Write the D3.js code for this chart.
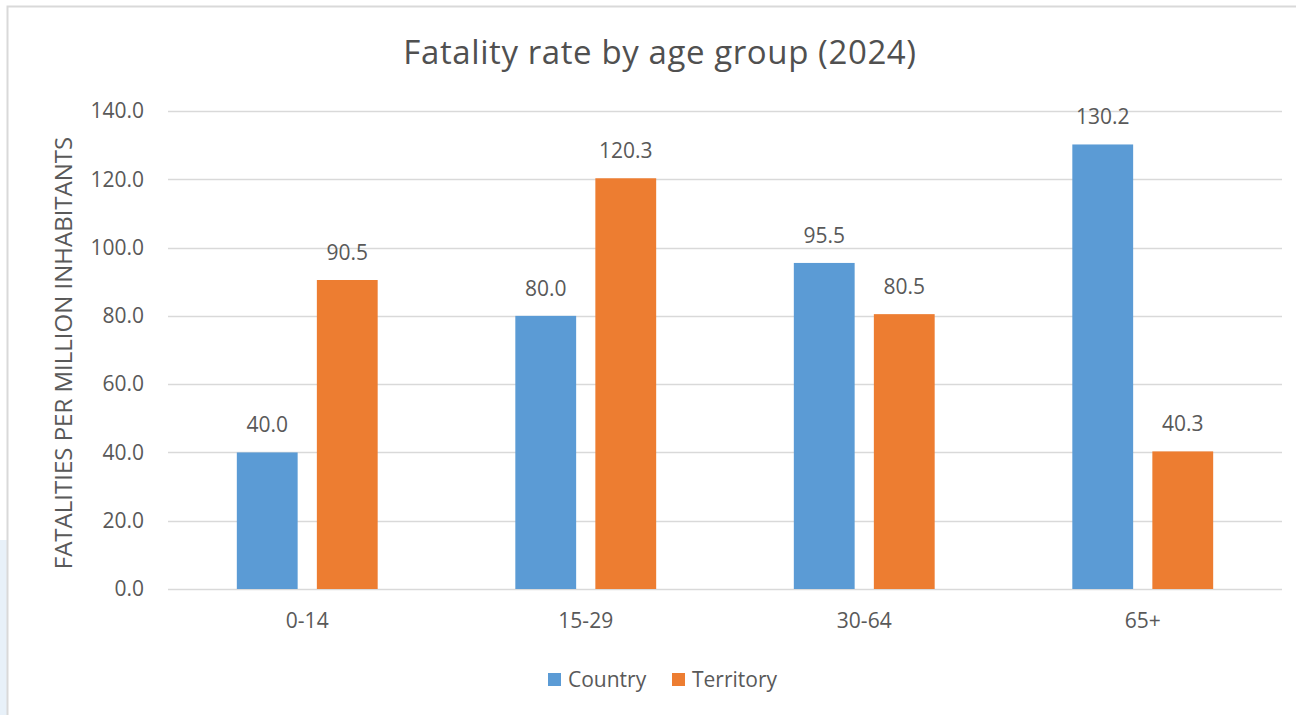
<!DOCTYPE html>
<html>
<head>
<meta charset="utf-8">
<script src="https://cdn.jsdelivr.net/npm/d3@7"></script>
<style>
  body { margin: 0; background: #fff; }
  svg text { font-family: "Open Sans", "Noto Sans", sans-serif; fill: #595959; }
</style>
</head>
<body>
<div id="chart"></div>
<script>
/* --- データ --- */
const categories = ["0-14", "15-29", "30-64", "65+"];
const seriesNames = ["Country", "Territory"];
const countryValues = [40.0, 80.0, 95.5, 130.2];
const territoryValues = [90.5, 120.3, 80.5, 40.3];
const yTicks = [0, 20, 40, 60, 80, 100, 120, 140];
const colors = ["#5B9BD5", "#ED7D31"];

const width = 1296, height = 715;
const margin = { top: 111, right: 14, bottom: 126, left: 168 };

const svg = d3.select("#chart").append("svg")
  .attr("width", width).attr("height", height);

// 左端の薄い背景
svg.append("rect").attr("x", 0).attr("y", 540).attr("width", 7).attr("height", 175)
  .attr("fill", "#e8f1f9");

// 枠線
svg.append("path")
  .attr("d", `M7.5,${height} V6.5 H${width}`)
  .attr("fill", "none").attr("stroke", "#d9d9d9").attr("stroke-width", 2);

const x0 = d3.scaleBand().domain(categories)
  .range([margin.left, width - margin.right]);
const x1 = d3.scaleBand().domain(seriesNames)
  .range([0, x0.bandwidth()]).paddingInner(0.24).paddingOuter(0.86);
const y = d3.scaleLinear().domain([0, 140])
  .range([height - margin.bottom, margin.top]);

// グリッド線
svg.append("g").selectAll("line").data(yTicks).join("line")
  .attr("x1", margin.left).attr("x2", width - margin.right)
  .attr("y1", d => Math.round(y(d)) + 0.5).attr("y2", d => Math.round(y(d)) + 0.5)
  .attr("stroke", "#d9d9d9").attr("stroke-width", 1.5);

// Y軸ラベル
const yAxis = svg.append("g")
  .attr("transform", `translate(${margin.left},0)`)
  .call(d3.axisLeft(y).tickValues(yTicks).tickFormat(d3.format(".1f")).tickSize(0).tickPadding(24));
yAxis.select(".domain").remove();
yAxis.selectAll("text").attr("font-size", "21px").style("font-family", null).attr("fill", null);

// X軸ラベル
const xAxis = svg.append("g")
  .attr("transform", `translate(0,${y(0)})`)
  .call(d3.axisBottom(x0).tickSize(0).tickPadding(24));
xAxis.select(".domain").remove();
xAxis.selectAll("text").attr("font-size", "21px").style("font-family", null).attr("fill", null);

// 棒
const rows = categories.map((c, i) => ({ cat: c, vals: [countryValues[i], territoryValues[i]] }));
const groups = svg.append("g").selectAll("g").data(rows).join("g")
  .attr("transform", d => `translate(${x0(d.cat)},0)`);

groups.selectAll("rect")
  .data(d => d.vals.map((v, k) => ({ name: seriesNames[k], value: v, k: k })))
  .join("rect")
  .attr("x", d => x1(d.name))
  .attr("width", x1.bandwidth())
  .attr("y", d => y(d.value))
  .attr("height", d => y(0) - y(d.value))
  .attr("fill", d => colors[d.k]);

groups.selectAll("text.val")
  .data(d => d.vals.map((v, k) => ({ name: seriesNames[k], value: v })))
  .join("text")
  .attr("class", "val")
  .attr("x", d => x1(d.name) + x1.bandwidth() / 2)
  .attr("y", d => y(d.value) - 20)
  .attr("text-anchor", "middle")
  .attr("font-size", "21px")
  .text(d => d.value.toFixed(1));

// タイトル
svg.append("text").attr("x", 660).attr("y", 64)
  .attr("text-anchor", "middle").attr("font-size", "33px")
  .attr("letter-spacing", "0.6px")
  .style("fill", "#505050")
  .text("Fatality rate by age group (2024)");

// 軸タイトル
svg.append("text")
  .attr("transform", `translate(72,${(y(0) + y(140)) / 2 + 3}) rotate(-90)`)
  .attr("text-anchor", "middle").attr("font-size", "24px")
  .text("FATALITIES PER MILLION INHABITANTS");

// 凡例
const legend = svg.append("g").attr("transform", "translate(548,680)");
const legendX = [0, 124];
seriesNames.forEach((name, i) => {
  const g = legend.append("g").attr("transform", `translate(${legendX[i]},0)`);
  g.append("rect").attr("x", 0).attr("y", -7).attr("width", 13).attr("height", 13)
    .attr("fill", colors[i]);
  g.append("text").attr("x", 20).attr("y", 7).attr("font-size", "21px").text(name);
});
</script>
</body>
</html>
